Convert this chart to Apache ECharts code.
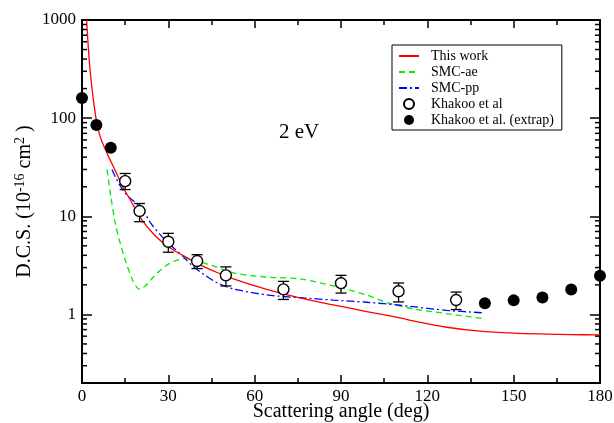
<!DOCTYPE html>
<html>
<head>
<meta charset="utf-8">
<script src="https://cdn.jsdelivr.net/npm/echarts@6/dist/echarts.min.js"></script>
<style>
  html, body { margin: 0; padding: 0; background: #fff; }
  #chart { width: 614px; height: 423px; }
</style>
</head>
<body>
<div id="chart"></div>
<script>
// [angle (deg), DCS]
const thisWork = [
  [1.6, 1000], [2.2, 520], [3.0, 270], [4.0, 150], [5.0, 95], [6.0, 70], [7.0, 57],
  [9, 42], [11.6, 29], [14, 20.5], [16.2, 15.7], [20.8, 9.2], [25.5, 6.3], [30, 4.9],
  [35, 4.0], [41, 3.2], [46, 2.75], [52.6, 2.3], [64.2, 1.8], [75.7, 1.47],
  [87.3, 1.25], [98.9, 1.07], [110.5, 0.92], [115, 0.86], [126.7, 0.74],
  [138.3, 0.675], [150, 0.645], [161.5, 0.63], [170, 0.622], [180, 0.62]
];
const smcAe = [
  [8.7, 30], [10, 16], [11.6, 8.4], [13.3, 5.3], [15, 3.6], [17.4, 2.3], [19, 1.9],
  [20.2, 1.8], [22, 1.95], [24.5, 2.35], [27.1, 2.8], [30, 3.25], [32.9, 3.55],
  [36, 3.7], [38.7, 3.7], [41, 3.45], [44.5, 3.2], [52.6, 2.65], [64.2, 2.4],
  [75.7, 2.3], [87.3, 1.95], [98.9, 1.58], [105.9, 1.32], [115.1, 1.14],
  [126.7, 1.02], [140, 0.9]
];
const smcPp = [
  [10.4, 30], [13, 21], [16, 16], [20.8, 12], [24, 8.4], [27.8, 6.2], [31, 5.0],
  [34.7, 4.0], [38.5, 3.1], [42.8, 2.5], [47, 2.1], [52.6, 1.82], [64.2, 1.58],
  [75.7, 1.48], [87.3, 1.4], [98.9, 1.33], [110.5, 1.24], [115, 1.2],
  [126.7, 1.1], [138.9, 1.04]
];
const khakoo = [
  [15, 22.8], [20, 11.3], [30, 5.5], [40, 3.5], [50, 2.5], [70, 1.8],
  [90, 2.08], [110, 1.72], [130, 1.4]
];
// [angle, low, high]
const khakooErr = [
  [15, 18.7, 27.3], [20, 8.8, 13.5], [30, 4.3, 6.7], [40, 2.93, 4.06],
  [50, 1.95, 3.05], [70, 1.42, 2.17], [90, 1.65, 2.5], [110, 1.34, 2.09],
  [130, 1.12, 1.69]
];
const khakooExtrap = [
  [0, 160], [5, 85], [10, 50], [140, 1.3], [150, 1.39], [160, 1.49],
  [170, 1.79], [180, 2.48]
];
const yMajor = [1, 10, 100, 1000];
const yMinor = [0.3, 0.4, 0.5, 0.6, 0.7, 0.8, 0.9,
  2, 3, 4, 5, 6, 7, 8, 9, 20, 30, 40, 50, 60, 70, 80, 90,
  200, 300, 400, 500, 600, 700, 800, 900];

const font = 'Liberation Serif';
const X_MIN = 0, X_MAX = 180;
const TICK = '#000';

function xAxisDef(pos, withLabels) {
  const ax = {
    type: 'value', min: X_MIN, max: X_MAX, interval: 30, position: pos,
    axisLine: { show: true, onZero: false, lineStyle: { color: '#000', width: 2 } },
    axisTick: { show: true, inside: true, length: 8, lineStyle: { color: TICK, width: 1.5 } },
    minorTick: { show: true, splitNumber: 2, length: 5, lineStyle: { color: TICK, width: 1.5 } },
    splitLine: { show: false },
    axisLabel: withLabels
      ? { show: true, color: '#000', fontFamily: font, fontSize: 17, margin: 5 }
      : { show: false },
  };
  if (withLabels) {
    ax.name = 'Scattering angle (deg)';
    ax.nameLocation = 'middle';
    ax.nameGap = 29;
    ax.nameMoveOverlap = false;
    ax.nameTextStyle = { fontFamily: font, fontSize: 20, color: '#000', verticalAlign: 'middle' };
  }
  return ax;
}

function yAxisDef(pos, withLabels) {
  const ax = {
    type: 'log', logBase: 10, min: 0.2, max: 1000, position: pos,
    axisLine: { show: true, onZero: false, lineStyle: { color: '#000', width: 2 } },
    axisTick: { show: true, inside: true, length: 10, customValues: yMajor,
      lineStyle: { color: TICK, width: 1.5 } },
    splitLine: { show: false },
    axisLabel: withLabels ? {
      show: true, customValues: yMajor, color: '#000', fontFamily: font, fontSize: 17, margin: 6,
      formatter: function (v) { return String(v); },
    } : { show: false },
  };
  if (withLabels) {
    ax.name = 'D.C.S. (10{sup|-16} cm{sup|2} )';
    ax.nameLocation = 'middle';
    ax.nameGap = 57;
    ax.nameRotate = 90;
    ax.nameMoveOverlap = false;
    ax.nameTextStyle = {
      fontFamily: font, fontSize: 20, color: '#000', align: 'center', verticalAlign: 'middle',
      rich: { sup: { fontFamily: font, fontSize: 14, color: '#000', verticalAlign: 'top', padding: [0, 0, 9, 0] } },
    };
  }
  return ax;
}

// minor y ticks on both sides, placed through the log scale
function minorTicks(values, len) {
  return {
    type: 'custom', data: values.map(v => [X_MIN, v]), clip: false, z: 6,
    renderItem: function (params, api) {
      const v = api.value(1);
      const l = api.coord([X_MIN, v]);
      const r = api.coord([X_MAX, v]);
      const st = { stroke: TICK, lineWidth: 1.5 };
      return {
        type: 'group',
        children: [
          { type: 'line', shape: { x1: l[0], y1: l[1], x2: l[0] + len, y2: l[1] }, style: st },
          { type: 'line', shape: { x1: r[0], y1: r[1], x2: r[0] - len, y2: r[1] }, style: st },
        ],
      };
    },
  };
}

const lineLegend = { opacity: 0 };

const chart = echarts.init(document.getElementById('chart'));

chart.setOption({
  animation: false,
  grid: { left: 82, right: 14, top: 20, bottom: 40, outerBoundsMode: 'none' },
  legend: {
    orient: 'vertical', left: 392, top: 45,
    padding: [4, 8, 3, 6], itemGap: 2, itemWidth: 20, itemHeight: 10,
    borderColor: '#000', borderWidth: 1,
    textStyle: { fontFamily: font, fontSize: 14, color: '#000', padding: [0, 0, 0, 7] },
    data: [
      { name: 'This work', itemStyle: lineLegend },
      { name: 'SMC-ae', itemStyle: lineLegend },
      { name: 'SMC-pp', itemStyle: lineLegend },
      'Khakoo et al', 'Khakoo et al. (extrap)',
    ],
  },
  graphic: [{
    type: 'text', left: 279, top: 122,
    style: { text: '2 eV', font: '21px "Liberation Serif"', fill: '#000' },
  }],
  xAxis: [xAxisDef('bottom', true), xAxisDef('top', false)],
  yAxis: [yAxisDef('left', true), yAxisDef('right', false)],
  series: [
    {
      name: 'This work', type: 'line', data: thisWork, showSymbol: false, symbol: 'none',
      smooth: 0.3, lineStyle: { color: '#ff0000', width: 1.3 }, itemStyle: { color: '#ff0000' },
      z: 3,
    },
    {
      name: 'SMC-ae', type: 'line', data: smcAe, showSymbol: false, symbol: 'none',
      smooth: 0.3, lineStyle: { color: '#00ee00', width: 1.3, type: [6, 4] }, itemStyle: { color: '#00ee00' },
      z: 2,
    },
    {
      name: 'SMC-pp', type: 'line', data: smcPp, showSymbol: false, symbol: 'none',
      smooth: 0.3, lineStyle: { color: '#0000ff', width: 1.3, type: [8, 3, 2, 3] }, itemStyle: { color: '#0000ff' },
      z: 2,
    },
    {
      name: 'error', type: 'custom', data: khakooErr, z: 4,
      renderItem: function (params, api) {
        const lo = api.coord([api.value(0), api.value(1)]);
        const hi = api.coord([api.value(0), api.value(2)]);
        const w = 5.5;
        const st = { stroke: '#000', lineWidth: 1.3 };
        return {
          type: 'group',
          children: [
            { type: 'line', shape: { x1: lo[0], y1: lo[1], x2: hi[0], y2: hi[1] }, style: st },
            { type: 'line', shape: { x1: lo[0] - w, y1: lo[1], x2: lo[0] + w, y2: lo[1] }, style: st },
            { type: 'line', shape: { x1: hi[0] - w, y1: hi[1], x2: hi[0] + w, y2: hi[1] }, style: st },
          ],
        };
      },
    },
    {
      name: 'Khakoo et al', type: 'scatter', data: khakoo, symbol: 'circle', symbolSize: 11, z: 5,
      itemStyle: { color: '#fff', borderColor: '#000', borderWidth: 1.4, opacity: 1 },
    },
    {
      name: 'Khakoo et al. (extrap)', type: 'scatter', data: khakooExtrap, symbol: 'circle', symbolSize: 12, z: 5,
      itemStyle: { color: '#000', opacity: 1 },
    },
    minorTicks(yMinor, 5),
  ],
});
</script>
</body>
</html>
